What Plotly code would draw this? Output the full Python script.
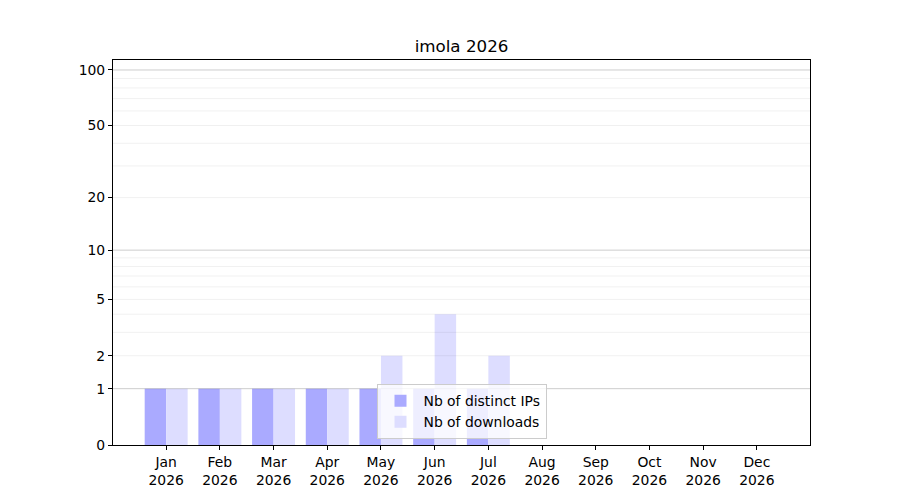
import numpy as np
import plotly.graph_objects as go

months = ["Jan", "Feb", "Mar", "Apr", "May", "Jun", "Jul", "Aug", "Sep", "Oct", "Nov", "Dec"]
year = "2026"
distinct_ips = [1, 1, 1, 1, 1, 1, 1, 0, 0, 0, 0, 0]
downloads = [1, 1, 1, 1, 2, 4, 2, 0, 0, 0, 0, 0]
y_ticks = [0, 1, 2, 5, 10, 20, 50, 100]
major_grid = [1, 10, 100]
minor_grid = [2, 3, 4, 5, 6, 7, 8, 9, 20, 30, 40, 50, 60, 70, 80, 90]


def tr(v):
    return np.log10(1 + np.asarray(v, dtype=float))


x = list(range(len(months)))
ticktext = [f"{m}<br>{year}" for m in months]
FONT = "DejaVu Sans"

fig = go.Figure()
fig.add_trace(go.Bar(x=x, y=tr(distinct_ips), name="Nb of distinct IPs",
                     marker=dict(color="#aaaaff", line=dict(width=0)),
                     customdata=distinct_ips, hovertemplate="%{customdata}"))
fig.add_trace(go.Bar(x=x, y=tr(downloads), name="Nb of downloads",
                     marker=dict(color="#ddddff", line=dict(width=0)),
                     customdata=downloads, hovertemplate="%{customdata}"))

shapes = []
for v in minor_grid:
    yy = float(tr(v))
    shapes.append(dict(type="line", xref="paper", yref="y", x0=0, x1=1, y0=yy, y1=yy,
                       line=dict(color="rgba(0,0,0,0.075)", width=0.8), layer="above"))
for v in major_grid:
    yy = float(tr(v))
    shapes.append(dict(type="line", xref="paper", yref="y", x0=0, x1=1, y0=yy, y1=yy,
                       line=dict(color="rgba(0,0,0,0.2)", width=1), layer="above"))

fig.update_layout(
    width=900, height=500,
    margin=dict(l=105, r=98, t=52, b=63),
    paper_bgcolor="white", plot_bgcolor="white",
    font=dict(family=FONT, size=13.9, color="black"),
    title=dict(text="imola 2026", x=0.5, xref="paper", xanchor="center",
               y=1 - 38 / 500, yref="container", yanchor="middle",
               font=dict(size=16.7, family=FONT, color="black")),
    barmode="group", bargap=0.2, bargroupgap=0,
    showlegend=True,
    legend=dict(x=0.5, xanchor="center", y=0.015, yanchor="bottom",
                bgcolor="rgba(255,255,255,0.8)", bordercolor="#cccccc", borderwidth=1,
                font=dict(size=13.9, family=FONT), tracegroupgap=0, itemwidth=36),
    shapes=shapes,
    xaxis=dict(range=[-0.99, 11.99], tickmode="array", tickvals=x, ticktext=ticktext,
               ticks="outside", ticklen=4, tickwidth=1, tickcolor="black",
               showline=True, linecolor="black", linewidth=1.1, mirror=True,
               showgrid=False, zeroline=False, fixedrange=True),
    yaxis=dict(range=[0, 2.0577], tickmode="array", tickvals=tr(y_ticks),
               ticktext=[str(v) for v in y_ticks],
               ticks="outside", ticklen=4, tickwidth=1, tickcolor="black",
               showline=True, linecolor="black", linewidth=1.1, mirror=True,
               showgrid=False, zeroline=False, fixedrange=True),
)

fig.write_html("out.html")
